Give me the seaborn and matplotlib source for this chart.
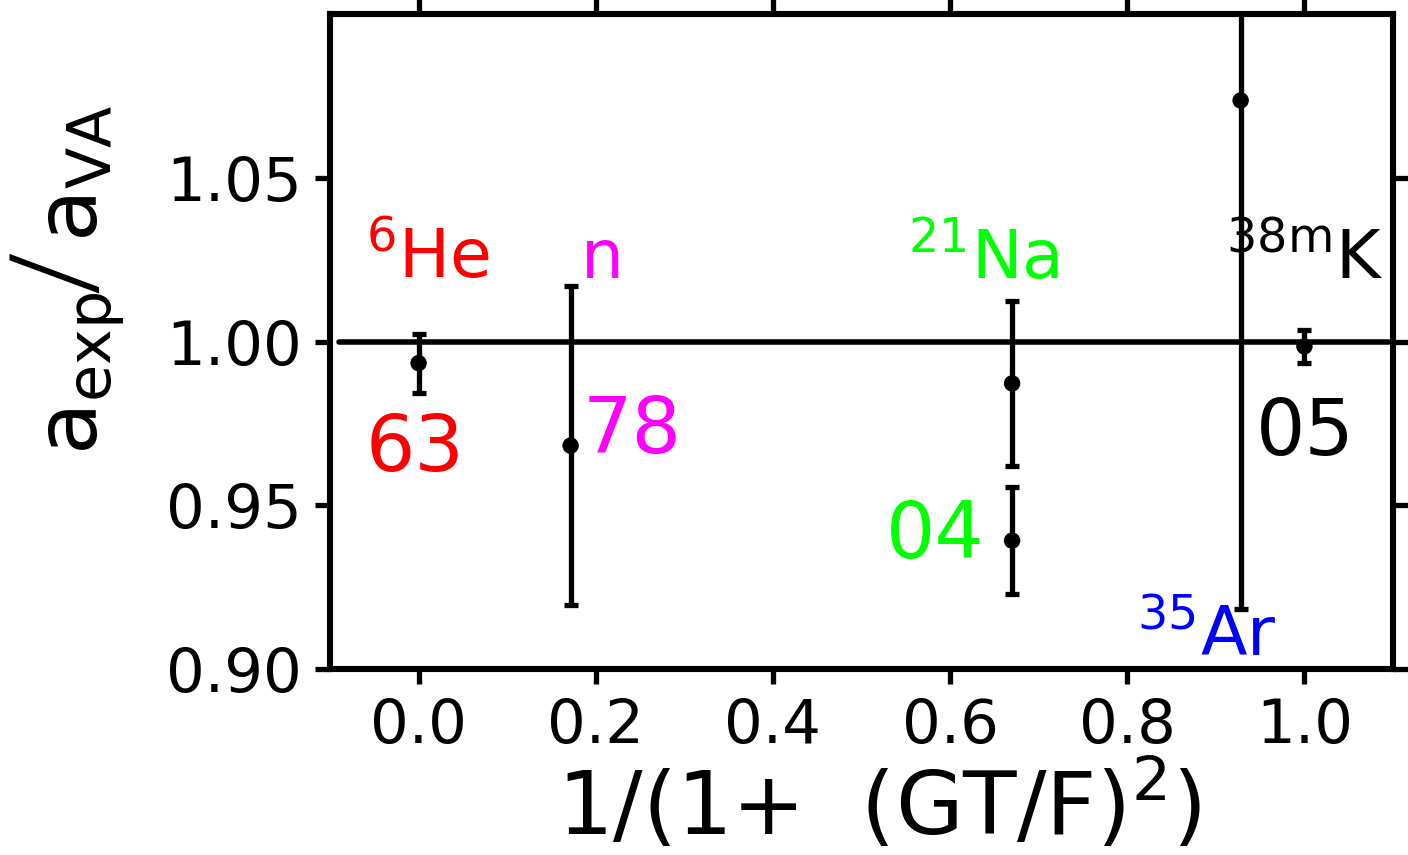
import matplotlib
matplotlib.use("Agg")
import matplotlib.pyplot as plt
import seaborn as sns
import pandas as pd

# Measured a_exp / a_VA ratios versus the Fermi fraction 1/(1+(GT/F)^2)
nuclei = ["6He", "n", "21Na (a)", "21Na (b)", "35Ar", "38mK"]
fermi_fraction = [0.0, 0.1716, 0.670, 0.670, 0.928, 1.0]
ratio = [0.9934, 0.9682, 0.9872, 0.9392, 1.0736, 0.9985]
ratio_err = [0.0090, 0.0487, 0.0253, 0.0163, 0.1552, 0.0051]

# Reference line a_exp = a_VA
ref_span = [-0.09, 1.095]
ref_level = 1.0

# Nucleus names and publication years placed next to the points
name_labels = [
    (r"$^{6}$He", -0.059, 1.0195, "#ff0000"),
    (r"n", 0.183, 1.0195, "#ff00ff"),
    (r"$^{21}$Na", 0.553, 1.0192, "#00ff00"),
    (r"$^{35}$Ar", 0.8115, 0.9041, "#0000ff"),
    (r"$^{38m}$K", 0.912, 1.0192, "#000000"),
]
year_labels = [
    ("63", -0.060, 0.9606, "#ff0000"),
    ("78", 0.185, 0.9661, "#ff00ff"),
    ("04", 0.527, 0.934, "#00ff00"),
    ("05", 0.9447, 0.9652, "#000000"),
]

xticks = [0.0, 0.2, 0.4, 0.6, 0.8, 1.0]
yticks = [0.90, 0.95, 1.00, 1.05]

sns.set_theme(style="white")
plt.rcParams["font.family"] = ["DejaVu Sans"]
plt.rcParams["mathtext.default"] = "regular"
plt.rcParams["mathtext.fontset"] = "dejavusans"

df = pd.DataFrame({"nucleus": nuclei, "x": fermi_fraction, "y": ratio, "err": ratio_err})

W, H = 1408, 855
fig = plt.figure(figsize=(W / 100, H / 100), dpi=100)
ax = fig.add_axes([330 / W, 1 - 669 / H, (1393 - 330) / W, (669 - 14) / H])

ax.plot(ref_span, [ref_level, ref_level], color="black", lw=4, solid_capstyle="round", zorder=2)
ax.errorbar(df["x"], df["y"], yerr=df["err"], fmt="none", ecolor="black",
            elinewidth=3.8, capsize=5, capthick=3.8, zorder=3)
sns.scatterplot(data=df, x="x", y="y", color="black", s=140, edgecolor="none",
                ax=ax, zorder=4, legend=False)

for txt, x, y, c in name_labels:
    ax.text(x, y, txt, color=c, fontsize=49, ha="left", va="baseline")
for txt, x, y, c in year_labels:
    ax.text(x, y, txt, color=c, fontsize=56, ha="left", va="baseline")

ax.set_xlim(-0.1, 1.1)
ax.set_ylim(0.90, 1.10)
ax.set_xticks(xticks)
ax.set_xticklabels([f"{v:.1f}" for v in xticks])
ax.set_yticks(yticks)
ax.set_yticklabels([f"{v:.2f}" for v in yticks])

for side in ["left", "right", "top", "bottom"]:
    ax.spines[side].set_visible(True)
    ax.spines[side].set_linewidth(4.4)
    ax.spines[side].set_color("black")

ax.tick_params(axis="both", which="major", direction="out", length=11, width=3.8,
               labelsize=44, pad=9, colors="black",
               top=True, right=True, bottom=True, left=True,
               labeltop=False, labelright=False)

ax.set_xlabel(r"1/(1+  (GT/F)$^{2}$)", fontsize=63, color="black")
ax.xaxis.set_label_coords(0.516, -0.135)
ax.set_ylabel("")

# Vertical axis title built from three rotated pieces: a_exp, a tall slash, a_VA
ytitle_kw = dict(rotation=90, rotation_mode="anchor", ha="left", va="baseline", color="black")
fig.text(98 / W, 1 - 455 / H, r"$a_{exp}$", fontsize=62, **ytitle_kw)
fig.text(66 / W, 1 - 272 / H, "/", fontsize=90, family=["Open Sans"], fontweight="light",
         rotation=90, rotation_mode="anchor", ha="center", va="center", color="black")
fig.text(98 / W, 1 - 242 / H, r"$a_{VA}$", fontsize=62, **ytitle_kw)

fig.savefig("out.png", dpi=100)
